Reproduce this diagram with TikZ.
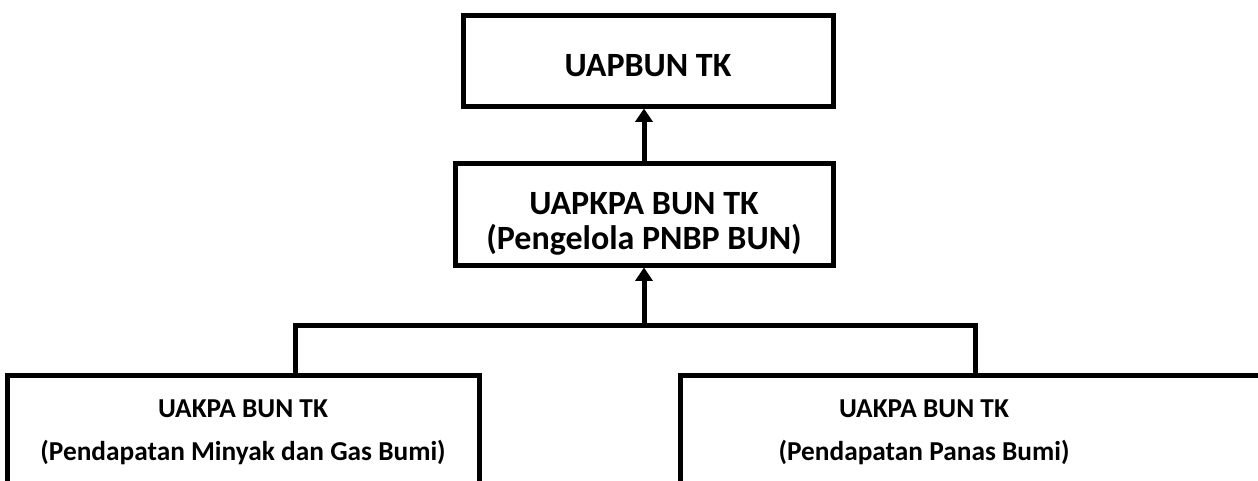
\documentclass[tikz,border=0pt]{standalone}
\usepackage{fontspec}
\setmainfont{Carlito}
\usetikzlibrary{arrows.meta, positioning}

\tikzset{
  box/.style={draw, rectangle, line width=3.75pt, align=center, inner sep=0pt,
    font=\bfseries\fontsize{25.5}{26.25}\selectfont},
  leafbox/.style={box, font=\bfseries\fontsize{20.5}{32.25}\selectfont},
  link/.style={line width=3.75pt},
  up/.style={link, -{Triangle[width=12.75pt,length=10pt]}}
}

\begin{document}
\begin{tikzpicture}[x=0.75pt,y=-0.75pt]
        \useasboundingbox (0,0) rectangle (1258,480);
        \clip (0,0) rectangle (1258,480);
        \node[box, minimum width=277.5pt, minimum height=68.25pt] (uapbun) at (648,60.5) {\rule{0pt}{24pt}UAPBUN TK};
        \node[box, minimum width=283.5pt, minimum height=76.5pt, below=39pt of uapbun, xshift=-3pt] (uapkpa) {\rule{0pt}{31.5pt}UAPKPA BUN TK\\(Pengelola PNBP BUN)};
        \node[leafbox, minimum width=354pt, minimum height=85.5pt] (migas) at (243,432) {UAKPA BUN TK\\(Pendapatan Minyak dan Gas Bumi)};
        \node[leafbox, minimum width=442.5pt, minimum height=85.5pt] (panas) at (975,432) {UAKPA BUN TK\hspace*{76.5pt}\\(Pendapatan Panas Bumi)\hspace*{76.5pt}};
        \coordinate (busL) at (295,325);
        \coordinate (busR) at (975,325);
        \draw[link] (busL |- migas.north) -- (busL) -- (busR) -- (busR |- panas.north);
        \draw[up] (busL -| uapkpa.south) -- (uapkpa.south);
        \draw[up] (uapkpa.north) -- (uapkpa.north |- uapbun.south);
\end{tikzpicture}
\end{document}
